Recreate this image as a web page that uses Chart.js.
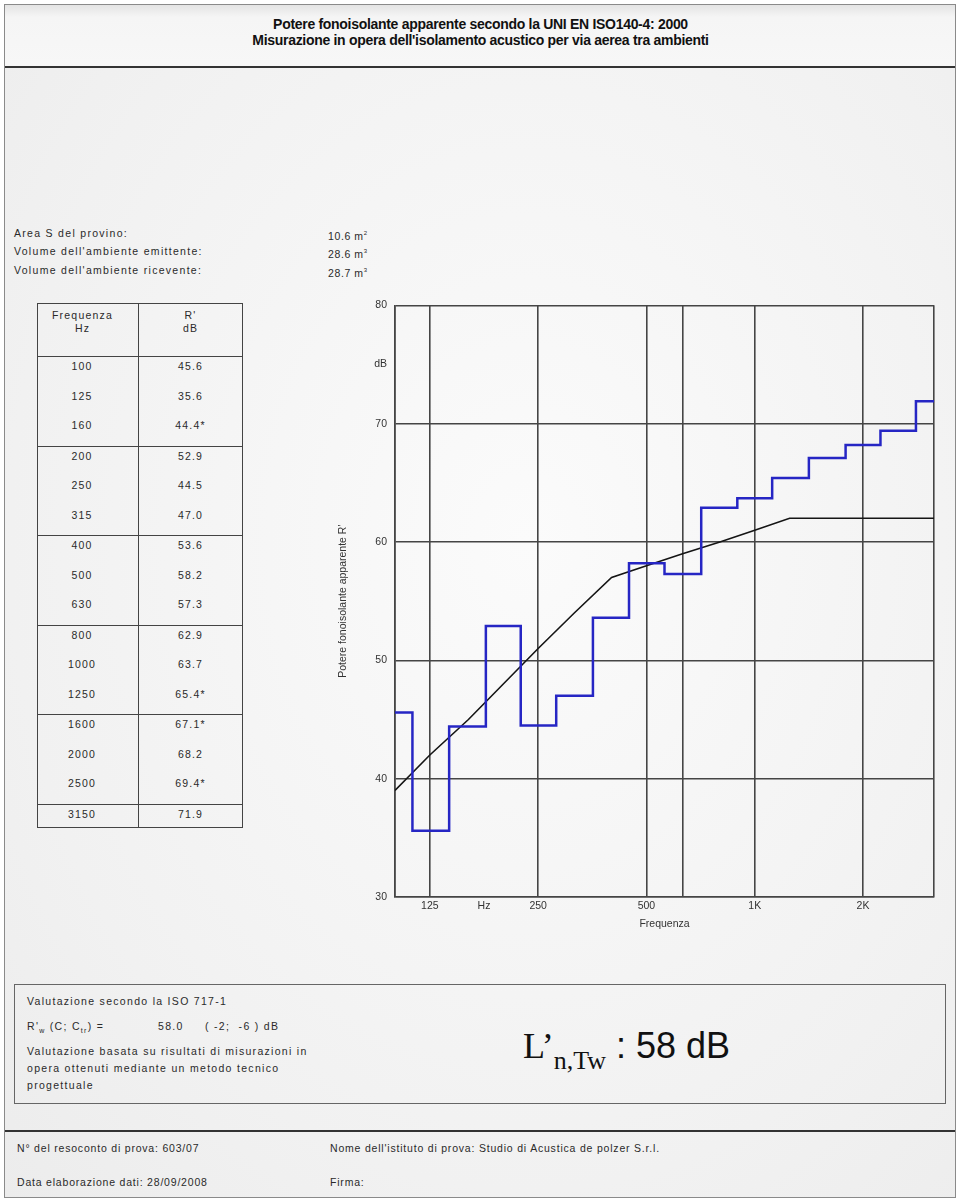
<!DOCTYPE html>
<html lang="it">
<head>
<meta charset="UTF-8">
<title>Potere fonoisolante apparente</title>
<script src="https://cdn.jsdelivr.net/npm/chart.js@4.4.1/dist/chart.umd.min.js"></script>
<style>
    body {
        margin: 0;
        width: 961px;
        height: 1201px;
        background: #fff;
        font-family: "Liberation Sans", Arial, sans-serif;
        color: #2a2a2a;
        position: relative;
        overflow: hidden;
    }
    .frame {
        position: absolute;
        left: 4px; top: 4px;
        width: 950px; height: 1192px;
        border: 1px solid #8a8a8a;
        background: radial-gradient(ellipse at 55% 45%, #fbfbfb 0%, #f1f1f1 70%, #ececec 100%);
    }
    .header {
        position: absolute;
        left: 5px; top: 5px;
        width: 950px; height: 61px;
        border-bottom: 2px solid #333;
        background: linear-gradient(#e4e4e4, #f5f5f5 20%, #f7f7f7);
    }
    .title {
        position: absolute;
        left: 0; width: 961px;
        text-align: center;
        font-weight: bold;
        font-size: 14px;
        line-height: 16px;
        letter-spacing: -0.3px;
        color: #111;
    }
    .txt {
        position: absolute;
        font-size: 10.5px;
        line-height: 14px;
        letter-spacing: 1.3px;
        white-space: nowrap;
    }
    table {
        position: absolute;
        left: 37px; top: 303px;
        width: 206px;
        border-collapse: collapse;
        border: 1.5px solid #444;
        font-size: 10.5px;
        letter-spacing: 1.2px;
    }
    th {
        height: 46px;
        vertical-align: top;
        padding-top: 5px;
        font-weight: normal;
        line-height: 13px;
        border-right: 1.5px solid #444;
    }
    td {
        height: 26.5px;
        vertical-align: top;
        padding: 3px 0 0 0;
        line-height: 13px;
        text-align: center;
        border-right: 1.5px solid #444;
    }
    td.f { padding-right: 12px; width: 88px; }
    tbody { border-top: 1.5px solid #444; }
    tbody.last td { height: 19px; }
    .evalbox {
        position: absolute;
        left: 14px; top: 984px;
        width: 930px; height: 118px;
        border: 1.5px solid #666;
    }
    .big {
        position: absolute;
        left: 523px; top: 1026px;
        font-size: 36px;
        line-height: 40px;
        color: #111;
        white-space: nowrap;
    }
    .big .serif { font-family: "Liberation Serif", "Times New Roman", serif; }
    .big sub { font-size: 26px; vertical-align: -11px; }
    .footline {
        position: absolute;
        left: 5px; top: 1130px;
        width: 950px; height: 0;
        border-top: 2px solid #333;
    }
    #wrap {
        position: absolute;
        left: 330px; top: 291px;
        width: 620px; height: 649px;
    }
</style>
</head>
<body>
<div class="frame"></div>
<div class="header"></div>
<div class="title" style="top:16px">Potere fonoisolante apparente secondo la UNI EN ISO140-4: 2000</div>
<div class="title" style="top:32px">Misurazione in opera dell'isolamento acustico per via aerea tra ambienti</div>

<div class="txt" style="left:14px;top:226px">Area S del provino:</div>
<div class="txt" style="left:14px;top:244px">Volume dell'ambiente emittente:</div>
<div class="txt" style="left:14px;top:263px">Volume dell'ambiente ricevente:</div>
<div class="txt" style="left:328px;top:226px;letter-spacing:0.6px">10.6 m<sup style="font-size:6px">2</sup></div>
<div class="txt" style="left:328px;top:244px;letter-spacing:0.6px">28.6 m<sup style="font-size:6px">3</sup></div>
<div class="txt" style="left:328px;top:263px;letter-spacing:0.6px">28.7 m<sup style="font-size:6px">3</sup></div>

<table id="tab">
    <thead><tr><th style="padding-right:12px">Frequenza<br>Hz</th><th>R'<br>dB</th></tr></thead>
</table>

<div id="wrap"><canvas id="chrt" width="620" height="649"></canvas></div>

<div class="evalbox"></div>
<div class="txt" style="left:27px;top:994px">Valutazione secondo la ISO 717-1</div>
<div class="txt" style="left:27px;top:1019px">R'<sub style="font-size:7px">w</sub> (C; C<sub style="font-size:7px">tr</sub>) =</div>
<div class="txt" style="left:158px;top:1019px">58.0</div>
<div class="txt" style="left:205px;top:1019px">( -2;&nbsp; -6 ) dB</div>
<div class="txt" style="left:27px;top:1044px">Valutazione basata su risultati di misurazioni in</div>
<div class="txt" style="left:27px;top:1061px">opera ottenuti mediante un metodo tecnico</div>
<div class="txt" style="left:27px;top:1078px">progettuale</div>

<div class="big"><span class="serif">L&rsquo;<sub>n,Tw</sub></span> : 58 dB</div>

<div class="footline"></div>
<div class="txt" style="left:17px;top:1141px;letter-spacing:0.8px">N° del resoconto di prova: 603/07</div>
<div class="txt" style="left:330px;top:1141px;letter-spacing:0.8px">Nome dell'istituto di prova: Studio di Acustica de polzer S.r.l.</div>
<div class="txt" style="left:17px;top:1175px;letter-spacing:0.8px">Data elaborazione dati: 28/09/2008</div>
<div class="txt" style="left:330px;top:1175px;letter-spacing:0.8px">Firma:</div>

<script>
    // terzi d'ottava e valori misurati
    const freqs = [100, 125, 160, 200, 250, 315, 400, 500, 630, 800, 1000, 1250, 1600, 2000, 2500, 3150]
    const rValues = [45.6, 35.6, 44.4, 52.9, 44.5, 47.0, 53.6, 58.2, 57.3, 62.9, 63.7, 65.4, 67.1, 68.2, 69.4, 71.9]
    const marked = [false, false, true, false, false, false, false, false, false, false, false, true, true, false, true, false]
    // curva di riferimento ISO 717-1 traslata (Rw = 58)
    const refCurve = [39, 42, 45, 48, 51, 54, 57, 58, 59, 60, 61, 62, 62, 62, 62, 62]
    const groupSizes = [3, 3, 3, 3, 3, 1]

    // tick asse x
    const xTickValues = [100, 125, 176.8, 250, 500, 630, 1000, 2000, 3150]
    const xTickLabels = ['', '125', 'Hz', '250', '500', '', '1K', '2K', '']
    // tick asse y
    const yTickValues = [30, 40, 50, 60, 70, 75, 80]
    const yTickLabels = ['30', '40', '50', '60', '70', 'dB', '80']

    // tabella
    let tab = document.getElementById('tab')
    let k = 0
    groupSizes.forEach((n, g) => {
        let tb = document.createElement('tbody')
        if (g === groupSizes.length - 1) tb.className = 'last'
        for (let i = 0; i < n; i++) {
            let tr = document.createElement('tr')
            let val = rValues[k].toFixed(1) + (marked[k] ? '*' : '')
            tr.innerHTML = '<td class="f">' + freqs[k] + '</td><td>' + val + '</td>'
            tb.appendChild(tr)
            k++
        }
        tab.appendChild(tb)
    })

    const gridCol = '#454545'
    const tickFont = { family: 'Liberation Sans, Arial, sans-serif', size: 10.5 }

    let chrt = document.getElementById('chrt').getContext('2d')
    let myChart = new Chart(chrt, {
        type: 'line',
        data: {
            datasets: [
                {
                    label: "R'",
                    data: freqs.map((f, i) => ({ x: f, y: rValues[i] })),
                    borderColor: '#2626c4',
                    borderWidth: 2.5,
                    stepped: 'middle',
                    pointRadius: 0
                },
                {
                    label: 'Riferimento',
                    data: freqs.map((f, i) => ({ x: f, y: refCurve[i] })),
                    borderColor: '#151515',
                    borderWidth: 1.6,
                    pointRadius: 0
                }
            ]
        },
        options: {
            responsive: false,
            animation: false,
            layout: { padding: { top: 10, right: 16 } },
            plugins: {
                legend: { display: false },
                tooltip: { enabled: false }
            },
            scales: {
                x: {
                    type: 'logarithmic',
                    min: 100,
                    max: 3150,
                    afterBuildTicks: s => { s.ticks = xTickValues.map(v => ({ value: v })) },
                    afterFit: s => { s.height = 43 },
                    ticks: {
                        autoSkip: false,
                        maxRotation: 0,
                        padding: 3,
                        color: '#333',
                        font: tickFont,
                        callback: (v) => xTickLabels[xTickValues.indexOf(v)]
                    },
                    grid: {
                        drawTicks: false,
                        lineWidth: 1.6,
                        color: c => (c.tick && c.tick.value === 176.8) ? 'rgba(0,0,0,0)' : gridCol
                    },
                    border: { color: gridCol, width: 1.6 },
                    title: {
                        display: true,
                        text: 'Frequenza',
                        color: '#333',
                        font: tickFont,
                        padding: { top: 0, bottom: 10 }
                    }
                },
                y: {
                    min: 30,
                    max: 80,
                    afterBuildTicks: s => { s.ticks = yTickValues.map(v => ({ value: v })) },
                    afterFit: s => { s.width = 65 },
                    ticks: {
                        padding: 8,
                        color: '#333',
                        font: tickFont,
                        callback: (v) => yTickLabels[yTickValues.indexOf(v)]
                    },
                    grid: {
                        drawTicks: false,
                        lineWidth: 1.6,
                        color: c => (c.tick && c.tick.value === 75) ? 'rgba(0,0,0,0)' : gridCol
                    },
                    border: { color: gridCol, width: 1.6 },
                    title: {
                        display: true,
                        text: "Potere fonoisolante apparente R'",
                        color: '#333',
                        font: tickFont,
                        padding: { top: 7, bottom: 0 }
                    }
                }
            }
        }
    })
</script>
</body>
</html>
